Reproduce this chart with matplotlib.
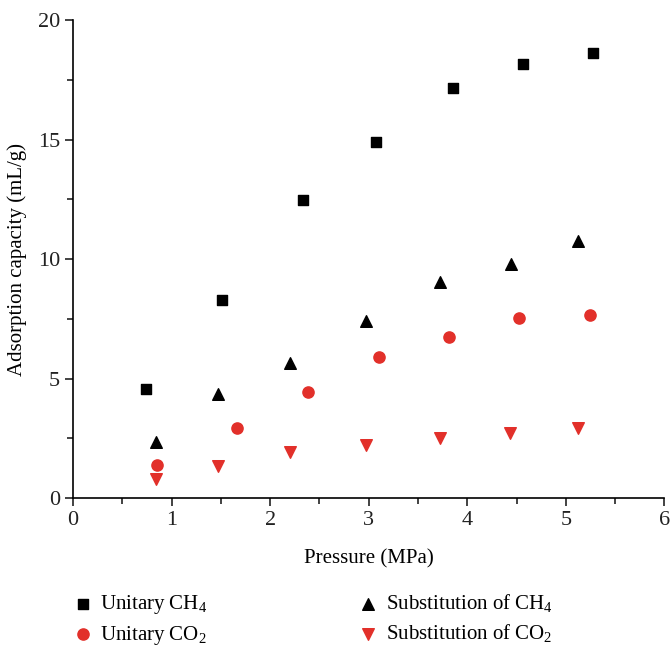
import numpy as np
import matplotlib.pyplot as plt
from matplotlib.ticker import MultipleLocator

plt.rcParams['font.family'] = ['Liberation Serif', 'DejaVu Serif']
plt.rcParams['mathtext.fontset'] = 'custom'
plt.rcParams['mathtext.rm'] = 'Liberation Serif'

# adsorption data, pressure in MPa, capacity in mL/g
p_ch4 = [0.74, 1.51, 2.33, 3.07, 3.86, 4.57, 5.28]
q_ch4 = [4.55, 8.28, 12.47, 14.9, 17.15, 18.16, 18.62]

p_sub_ch4 = [0.84, 1.47, 2.20, 2.97, 3.72, 4.44, 5.12]
q_sub_ch4 = [2.35, 4.37, 5.67, 7.42, 9.02, 9.81, 10.77]

p_co2 = [0.85, 1.66, 2.38, 3.10, 3.81, 4.53, 5.25]
q_co2 = [1.38, 2.93, 4.44, 5.90, 6.74, 7.53, 7.66]

p_sub_co2 = [0.84, 1.47, 2.20, 2.97, 3.72, 4.43, 5.12]
q_sub_co2 = [0.78, 1.33, 1.94, 2.24, 2.53, 2.74, 2.95]

red = '#e2302a'

fig = plt.figure(figsize=(6.71, 6.46), dpi=100)
ax = fig.add_axes([0.109, 0.229, 0.881, 0.74])

ax.scatter(p_ch4, q_ch4, marker='s', s=55, color='black', label='Unitary CH$_4$')
ax.scatter(p_co2, q_co2, marker='o', s=65, color=red, label='Unitary CO$_2$')
ax.scatter(p_sub_ch4, q_sub_ch4, marker='^', s=70, color='black', label='Substitution of CH$_4$')
ax.scatter(p_sub_co2, q_sub_co2, marker='v', s=70, color=red, label='Substitution of CO$_2$')

ax.set_xlim(0, 6)
ax.set_ylim(0, 20)
ax.xaxis.set_major_locator(MultipleLocator(1))
ax.xaxis.set_minor_locator(MultipleLocator(0.5))
ax.yaxis.set_major_locator(MultipleLocator(5))
ax.yaxis.set_minor_locator(MultipleLocator(2.5))
ax.tick_params(which='both', direction='out', width=1.2, labelsize=16, colors='#222222')
ax.tick_params(which='major', length=6)
ax.tick_params(which='minor', length=4)
for s in ['top', 'right']:
    ax.spines[s].set_visible(False)
for s in ['left', 'bottom']:
    ax.spines[s].set_linewidth(1.2)

ax.set_xlabel('Pressure (MPa)', fontsize=15, labelpad=14)
ax.set_ylabel('Adsorption capacity (mL/g)', fontsize=15, labelpad=8)

fig.legend(loc='lower left', bbox_to_anchor=(0.0954, -0.014), ncol=2, frameon=False,
           fontsize=15, columnspacing=7.2, handlelength=1.0, handletextpad=0.35,
           labelspacing=0.35, borderaxespad=0, scatterpoints=1)

fig.savefig('out.png', dpi=100)
